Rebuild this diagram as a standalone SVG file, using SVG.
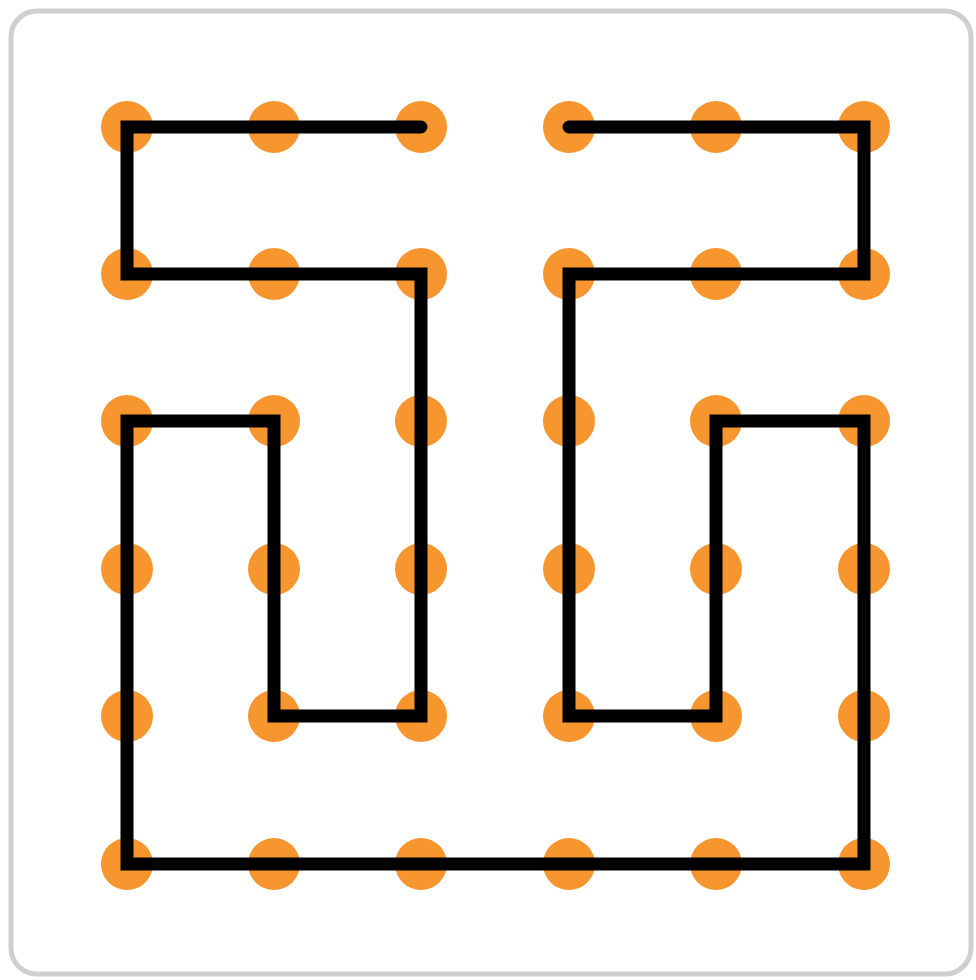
<svg xmlns="http://www.w3.org/2000/svg" width="976" height="980" viewBox="0 0 976 980">
<style>
.frame{fill:#ffffff;stroke:#cfcfcf;stroke-width:5}
.dot{fill:#f7952f}
.path{fill:none;stroke:#000000;stroke-width:13;stroke-linecap:round;stroke-linejoin:miter}
</style>
<defs>
<circle id="d" r="26" class="dot"/>
</defs>
<rect class="frame" x="11" y="11" width="960" height="963" rx="26" ry="26"/>
<g id="dots">
<g id="row1"><use href="#d" x="127" y="127"/><use href="#d" x="274" y="127"/><use href="#d" x="421" y="127"/><use href="#d" x="569" y="127"/><use href="#d" x="716" y="127"/><use href="#d" x="864" y="127"/></g>
<g id="row2"><use href="#d" x="127" y="274"/><use href="#d" x="274" y="274"/><use href="#d" x="421" y="274"/><use href="#d" x="569" y="274"/><use href="#d" x="716" y="274"/><use href="#d" x="864" y="274"/></g>
<g id="row3"><use href="#d" x="127" y="421"/><use href="#d" x="274" y="421"/><use href="#d" x="421" y="421"/><use href="#d" x="569" y="421"/><use href="#d" x="716" y="421"/><use href="#d" x="864" y="421"/></g>
<g id="row4"><use href="#d" x="127" y="569"/><use href="#d" x="274" y="569"/><use href="#d" x="421" y="569"/><use href="#d" x="569" y="569"/><use href="#d" x="716" y="569"/><use href="#d" x="864" y="569"/></g>
<g id="row5"><use href="#d" x="127" y="716"/><use href="#d" x="274" y="716"/><use href="#d" x="421" y="716"/><use href="#d" x="569" y="716"/><use href="#d" x="716" y="716"/><use href="#d" x="864" y="716"/></g>
<g id="row6"><use href="#d" x="127" y="864"/><use href="#d" x="274" y="864"/><use href="#d" x="421" y="864"/><use href="#d" x="569" y="864"/><use href="#d" x="716" y="864"/><use href="#d" x="864" y="864"/></g>
</g>
<g id="connectors">
<path class="path" d="M421,127 H127 V274 H421 V716 H274 V421 H127 V864 H864 V421 H716 V716 H569 V274 H864 V127 H569"/>
</g>
</svg>
